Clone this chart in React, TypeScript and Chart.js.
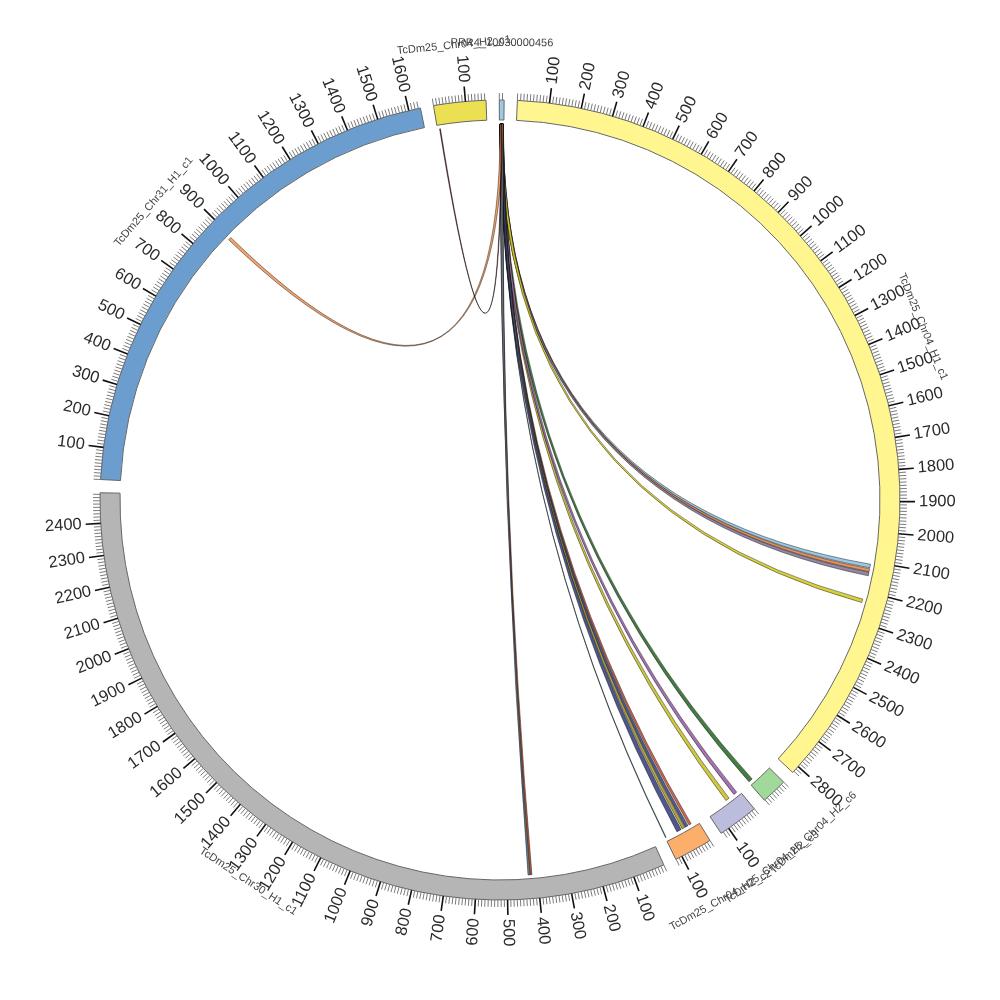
import React, { useEffect, useRef } from 'react';
import { Chart, registerables } from 'chart.js';

Chart.register(...registerables);

// ---------- data ----------
const SECTOR_NAMES = [
  'PRR4_10030000456',
  'TcDm25_Chr04_H1_c1',
  'TcDm25_Chr04_H2_c6',
  'TcDm25_Chr04_H2_c3',
  'TcDm25_Chr04_H2_c2',
  'TcDm25_Chr30_H1_c1',
  'TcDm25_Chr31_H1_c1',
  'TcDm25_Chr04_H2_c1',
];
const SECTOR_SIZES = [15, 2825, 82, 128, 121, 2495, 1637, 164];
const SECTOR_COLORS = ['#9ecae1', '#fff68f', '#a1d99b', '#bcbddc', '#fdae6b', '#b5b5b5', '#6b9ecf', '#ebe052'];

const TICK_MINOR_STEP = 10;
const TICK_MAJOR_STEP = 100;

// links: all from PRR4 (sector 0) to target sectors
const LINK_SRC_START = [2, 2, 2, 2, 2, 2, 2, 2, 2, 2, 2, 6, 2, 2, 3, 6];
const LINK_SRC_END = [13, 13, 13, 13, 13, 13, 13, 13, 13, 13, 13, 8, 13, 13, 12, 9];
const LINK_TGT_SECTOR = [1, 1, 1, 1, 2, 3, 3, 4, 4, 4, 4, 4, 5, 5, 6, 7];
const LINK_TGT_START = [2108, 2123, 2135, 2226, 66, 42, 10, 24, 36, 48, 62, 118, 418, 425, 885, 7];
const LINK_TGT_END = [2120, 2133, 2147, 2238, 80, 55, 22, 32, 46, 58, 78, 120, 424, 431, 895, 10];
const LINK_COLORS = [
  '#8ec3e0', '#e8874a', '#8a7a9a', '#d4cc24', '#2f6f2f', '#c9c22a', '#9a62a8', '#d2553a',
  '#3f4a86', '#a89a2a', '#3c4680', '#2f7086', '#b8471f', '#607890', '#f19a5e', '#6b1a1a',
];

// ---------- layout constants ----------
const GAP_DEG = 1.9;
const START_DEG = -0.1;

const TOTAL = SECTOR_SIZES.reduce((a, b) => a + b, 0);
const GAP_UNITS = (TOTAL * GAP_DEG) / (360 - SECTOR_SIZES.length * GAP_DEG);

const circosPlugin = {
  id: 'circos',
  afterDatasetsDraw(chart: any) {
    const meta = chart.getDatasetMeta(0);
    const arcs = SECTOR_SIZES.map((_, i) => meta.data[i * 2]);
    const ctx: CanvasRenderingContext2D = chart.ctx;
    const p0 = arcs[0].getProps(['x', 'y', 'outerRadius', 'innerRadius'], true);
    const cx = p0.x;
    const cy = p0.y;
    const R = p0.outerRadius;
    const Ri = p0.innerRadius;
    const angleAt = (s: number, v: number) => {
      const p = arcs[s].getProps(['startAngle', 'endAngle'], true);
      return p.startAngle + (v / SECTOR_SIZES[s]) * (p.endAngle - p.startAngle);
    };
    const pt = (r: number, a: number): [number, number] => [cx + r * Math.cos(a), cy + r * Math.sin(a)];

    // links
    const rL = Ri - 4;
    ctx.save();
    for (let i = 0; i < LINK_COLORS.length; i++) {
      const s1 = angleAt(0, LINK_SRC_START[i]);
      const e1 = angleAt(0, LINK_SRC_END[i]);
      const t = LINK_TGT_SECTOR[i];
      const s2 = angleAt(t, LINK_TGT_START[i]);
      const e2 = angleAt(t, LINK_TGT_END[i]);
      ctx.beginPath();
      const a = pt(rL, s1);
      ctx.moveTo(a[0], a[1]);
      ctx.arc(cx, cy, rL, s1, e1, false);
      const b = pt(rL, s2);
      ctx.quadraticCurveTo(cx, cy, b[0], b[1]);
      ctx.arc(cx, cy, rL, s2, e2, false);
      ctx.quadraticCurveTo(cx, cy, a[0], a[1]);
      ctx.closePath();
      ctx.globalAlpha = 0.9;
      ctx.fillStyle = LINK_COLORS[i];
      ctx.fill();
      ctx.globalAlpha = 0.85;
      ctx.lineWidth = 0.5;
      ctx.strokeStyle = '#000';
      ctx.stroke();
    }
    ctx.restore();

    // ticks + tick labels
    ctx.save();
    ctx.font = '16.5px "Liberation Sans", Arial, sans-serif';
    ctx.textBaseline = 'middle';
    for (let s = 0; s < SECTOR_SIZES.length; s++) {
      for (let v = 0; v <= SECTOR_SIZES[s]; v += TICK_MINOR_STEP) {
        const a = angleAt(s, v);
        const major = v > 0 && v % TICK_MAJOR_STEP === 0;
        const len = major ? 15 : 7;
        const p1 = pt(R, a);
        const p2 = pt(R + len, a);
        ctx.beginPath();
        ctx.moveTo(p1[0], p1[1]);
        ctx.lineTo(p2[0], p2[1]);
        ctx.lineWidth = major ? 1.6 : 1;
        ctx.strokeStyle = major ? '#111' : '#7a7a7a';
        ctx.stroke();
        if (major) {
          const deg = ((a * 180) / Math.PI + 90 + 360) % 360;
          ctx.save();
          ctx.translate(cx, cy);
          ctx.fillStyle = '#2a2a2a';
          if (deg < 180) {
            ctx.rotate(a);
            ctx.textAlign = 'left';
            ctx.fillText(String(v), R + 19, 0);
          } else {
            ctx.rotate(a + Math.PI);
            ctx.textAlign = 'right';
            ctx.fillText(String(v), -(R + 19), 0);
          }
          ctx.restore();
        }
      }
    }
    ctx.restore();

    // sector names
    ctx.save();
    ctx.font = '11px "Liberation Sans", Arial, sans-serif';
    ctx.textAlign = 'center';
    ctx.textBaseline = 'middle';
    ctx.fillStyle = '#444';
    for (let s = 0; s < SECTOR_SIZES.length; s++) {
      const a = angleAt(s, SECTOR_SIZES[s] / 2);
      const deg = ((a * 180) / Math.PI + 90 + 360) % 360;
      const p = pt(R + 57, a);
      ctx.save();
      ctx.translate(p[0], p[1]);
      if (deg > 90 && deg < 270) ctx.rotate(a - Math.PI / 2);
      else ctx.rotate(a + Math.PI / 2);
      ctx.fillText(SECTOR_NAMES[s], 0, 0);
      ctx.restore();
    }
    ctx.restore();
  },
};

export default function App() {
  const ref = useRef<HTMLCanvasElement | null>(null);
  useEffect(() => {
    if (!ref.current) return;
    const data: number[] = [];
    const colors: string[] = [];
    const borders: number[] = [];
    SECTOR_SIZES.forEach((v, i) => {
      data.push(v, GAP_UNITS);
      colors.push(SECTOR_COLORS[i], 'rgba(0,0,0,0)');
      borders.push(1, 0);
    });
    const chart = new Chart(ref.current, {
      type: 'doughnut',
      data: {
        labels: SECTOR_NAMES.flatMap((n) => [n, '']),
        datasets: [
          {
            data,
            backgroundColor: colors,
            borderColor: '#666',
            borderWidth: borders,
            hoverOffset: 0,
          },
        ],
      },
      options: {
        responsive: false,
        animation: false,
        radius: 400,
        cutout: '95%',
        rotation: START_DEG,
        circumference: 360,
        layout: { padding: 0 },
        plugins: { legend: { display: false }, tooltip: { enabled: false } },
        events: [],
      },
      plugins: [circosPlugin],
    });
    return () => chart.destroy();
  }, []);
  return (
    <div style={{ position: 'absolute', left: 0, top: 0, width: 1000, height: 1000, background: '#fff' }}>
      <canvas ref={ref} width={1000} height={1000} style={{ display: 'block' }} />
    </div>
  );
}
